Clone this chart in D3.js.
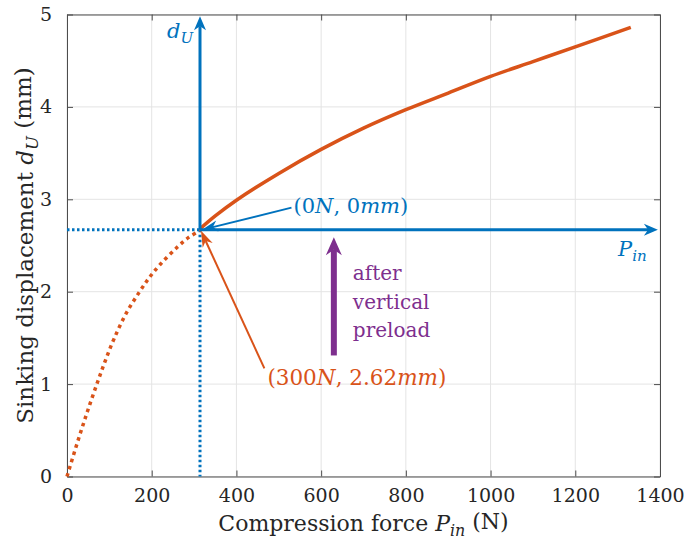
<!DOCTYPE html>
<html>
<head>
<meta charset="utf-8">
<script src="https://cdn.jsdelivr.net/npm/d3@7"></script>
<style>
  body { margin: 0; background: #fff; }
</style>
</head>
<body>
<div id="chart"></div>
<script>
// data
var solidP = [314, 350, 400, 500, 600, 700, 800, 900, 1000, 1100, 1200, 1331]
var solidD = [2.68, 2.82, 2.99, 3.28, 3.54, 3.77, 3.97, 4.15, 4.33, 4.49, 4.65, 4.86]
var dotP = [0, 24, 48, 72, 91, 111, 139, 170, 194, 221, 260, 288, 314]
var dotD = [0, 0.36, 0.70, 1.02, 1.26, 1.49, 1.76, 1.99, 2.15, 2.30, 2.48, 2.59, 2.66]
var xTicks = [0, 200, 400, 600, 800, 1000, 1200, 1400]
var yTicks = [0, 1, 2, 3, 4, 5]
var origin = [314, 2.67]

var width = 685,
    height = 544,
    margin = {top: 14, right: 25, bottom: 68, left: 67}

var blue = "#0072BD", orange = "#D95319", purple = "#7E2F8E"
var serif = "DejaVu Serif"

var svg = d3.select("#chart")
    .append("svg")
        .attr("width", width)
        .attr("height", height)
        .style("font-family", serif)

var x = d3.scaleLinear().domain([0, 1400]).range([margin.left, width - margin.right])
var y = d3.scaleLinear().domain([0, 5]).range([height - margin.bottom + 0.5, margin.top + 0.5])

// grid
svg.selectAll(".gx").data(xTicks).enter().append("line")
    .attr("x1", function(d){ return x(d) }).attr("x2", function(d){ return x(d) })
    .attr("y1", y(0)).attr("y2", y(5))
    .attr("stroke", "#e4e4e4").attr("stroke-width", 1)
svg.selectAll(".gy").data(yTicks).enter().append("line")
    .attr("y1", function(d){ return y(d) }).attr("y2", function(d){ return y(d) })
    .attr("x1", x(0)).attr("x2", x(1400))
    .attr("stroke", "#e4e4e4").attr("stroke-width", 1)

// axes (inward ticks, box)
var axisColor = "#4d4d4d"
function styleAxis(g) {
    g.attr("font-family", null).attr("font-size", 19)
    g.selectAll("path, line").attr("stroke", axisColor)
    g.selectAll("text").attr("fill", "#262626")
}
var fmt = d3.format("d")
svg.append("g").attr("transform", "translate(0," + y(0) + ")")
    .call(d3.axisBottom(x).tickValues(xTicks).tickFormat(fmt).tickSize(-6).tickSizeOuter(0).tickPadding(12))
    .call(styleAxis)
svg.append("g").attr("transform", "translate(" + x(0) + ",0)")
    .call(d3.axisLeft(y).tickValues(yTicks).tickFormat(fmt).tickSize(-6).tickSizeOuter(0).tickPadding(15))
    .call(styleAxis)
svg.append("g").attr("transform", "translate(0," + y(5) + ")")
    .call(d3.axisTop(x).tickValues(xTicks).tickSize(-6).tickSizeOuter(0).tickFormat(""))
    .call(styleAxis)
svg.append("g").attr("transform", "translate(" + x(1400) + ",0)")
    .call(d3.axisRight(y).tickValues(yTicks).tickSize(-6).tickSizeOuter(0).tickFormat(""))
    .call(styleAxis)

var line = d3.line().x(function(d){ return x(d[0]) }).y(function(d){ return y(d[1]) }).curve(d3.curveCatmullRom)

// blue dotted guides
svg.append("line")
    .attr("x1", x(0)).attr("x2", x(origin[0])).attr("y1", y(origin[1])).attr("y2", y(origin[1]))
    .attr("stroke", blue).attr("stroke-width", 3).attr("stroke-dasharray", "2.5,2.5")
svg.append("line")
    .attr("x1", x(origin[0])).attr("x2", x(origin[0])).attr("y1", y(origin[1])).attr("y2", y(0))
    .attr("stroke", blue).attr("stroke-width", 3).attr("stroke-dasharray", "2.5,2.5")

// orange curves
svg.append("path")
    .datum(dotP.map(function(p, i){ return [p, dotD[i]] }))
    .attr("d", line).attr("fill", "none")
    .attr("stroke", orange).attr("stroke-width", 3.5).attr("stroke-dasharray", "3.5,4")
svg.append("path")
    .datum(solidP.map(function(p, i){ return [p, solidD[i]] }))
    .attr("d", line).attr("fill", "none")
    .attr("stroke", orange).attr("stroke-width", 3.5)

// arrow helper: line with a filled concave head
function arrow(x1, y1, x2, y2, color, w, hl, hw) {
    var a = Math.atan2(y2 - y1, x2 - x1)
    var c = Math.cos(a), s = Math.sin(a)
    var bx = x2 - c * hl, by = y2 - s * hl
    var nx = x2 - c * hl * 0.7, ny = y2 - s * hl * 0.7
    svg.append("line").attr("x1", x1).attr("y1", y1).attr("x2", nx).attr("y2", ny)
        .attr("stroke", color).attr("stroke-width", w)
    svg.append("path")
        .attr("d", "M" + x2 + "," + y2 +
            "L" + (bx - s * hw) + "," + (by + c * hw) +
            "L" + nx + "," + ny +
            "L" + (bx + s * hw) + "," + (by - c * hw) + "Z")
        .attr("fill", color)
}

// blue local axes
arrow(x(origin[0]), y(origin[1]), x(origin[0]), y(4.98), blue, 3, 14, 6)
arrow(x(origin[0]), y(origin[1]), x(1395), y(origin[1]), blue, 3, 14, 6)
// annotation arrows
arrow(x(530), y(2.91), x(origin[0]) + 2, y(origin[1]), blue, 2, 16, 5.5)
arrow(x(466), y(1.17), x(origin[0]) + 1, y(origin[1]) + 1, orange, 2, 16, 5.5)
// purple preload arrow
arrow(x(630), y(1.31), x(630), y(2.59), purple, 6, 18, 8)

// labels
function mathText(xp, yp, parts, color, size) {
    var t = svg.append("text").attr("x", xp).attr("y", yp).attr("fill", color)
        .attr("font-size", size)
    parts.forEach(function(p) {
        var s = t.append("tspan").text(p[0])
        if (p[1] === "i") s.attr("font-style", "italic")
        if (p[1] === "sub") s.attr("font-style", "italic").attr("font-size", size * 0.72).attr("dy", "0.3em")
        if (p[2]) s.attr("dy", p[2])
    })
    return t
}
mathText(x(530) + 2, 213, [["(", ""], ["0", ""], ["N", "i"], [", 0", ""], ["mm", "i"], [")", ""]], blue, 21)
mathText(x(466) + 3, 385, [["(", ""], ["300", ""], ["N", "i"], [", 2.62", ""], ["mm", "i"], [")", ""]], orange, 21.5)
mathText(x(origin[0]) - 33, 38, [["d", "i"], ["U", "sub"]], blue, 21)
mathText(x(1400) - 42, 256, [["P", "i"], ["in", "sub"]], blue, 21)

var preload = ["after", "vertical", "preload"]
svg.selectAll(".pre").data(preload).enter().append("text")
    .attr("x", x(630) + 19)
    .attr("y", function(d, i){ return 280 + i * 28.5 })
    .attr("fill", purple).attr("font-size", 20)
    .text(function(d){ return d })

// axis titles
var xt = mathText((x(0) + x(1400)) / 2, 531, [["Compression force ", ""], ["P", "i"], ["in", "sub"], [" (N)", "", "-0.3em"]], "#262626", 22)
xt.attr("text-anchor", "middle")
var yt = svg.append("text")
    .attr("transform", "translate(33," + (y(0) + y(5)) / 2 + ") rotate(-90)")
    .attr("text-anchor", "middle").attr("fill", "#262626").attr("font-size", 23)
yt.append("tspan").text("Sinking displacement ")
yt.append("tspan").text("d").attr("font-style", "italic")
yt.append("tspan").text("U").attr("font-style", "italic").attr("font-size", 16.5).attr("dy", "0.3em")
yt.append("tspan").text("  (mm)").attr("dy", "-0.3em")
</script>
</body>
</html>
